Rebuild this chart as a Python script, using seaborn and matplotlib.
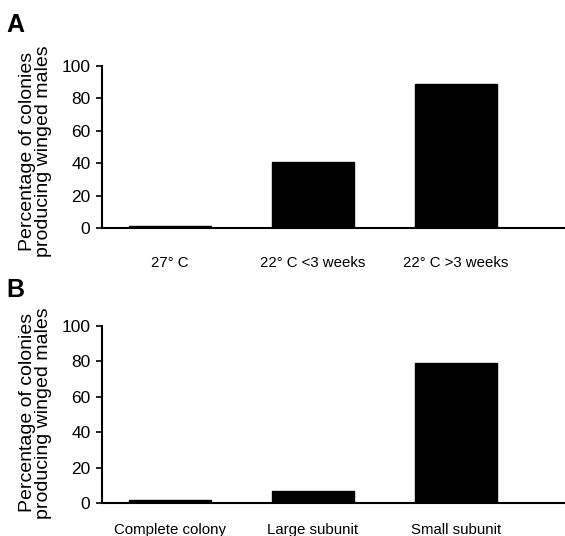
import matplotlib
matplotlib.use("Agg")
import matplotlib.pyplot as plt
import seaborn as sns

# panel A: temperature treatments
temp_groups = ["27° C", "22° C <3 weeks", "22° C >3 weeks"]
temp_pct = [1, 41, 89]

# panel B: colony fragments
colony_groups = ["Complete colony", "Large subunit", "Small subunit"]
colony_pct = [1.5, 7, 79]

y_ticks = [0, 20, 40, 60, 80, 100]

sns.set_style("white")
plt.rcParams["font.family"] = ["Liberation Sans", "DejaVu Sans"]
plt.rcParams["text.color"] = "black"
plt.rcParams["xtick.color"] = "black"
plt.rcParams["ytick.color"] = "black"
plt.rcParams["axes.labelcolor"] = "black"

fig = plt.figure(figsize=(5.65, 5.36), dpi=100)
ax_a = fig.add_axes([0.1805, 0.5746, 0.8195, 0.3022])
ax_b = fig.add_axes([0.1805, 0.0616, 0.8195, 0.330])

def draw_panel(ax, groups, vals, xpad, label_xy):
    sns.barplot(x=groups, y=vals, color="black", width=0.57, ax=ax,
                saturation=1, edgecolor="black")
    ax.set_ylim(0, 100)
    ax.set_xlim(-0.476, 2.762)
    ax.set_yticks(y_ticks)
    ax.set_yticklabels([str(t) for t in y_ticks], fontsize=12.5)
    ax.tick_params(axis="y", left=True, length=4.3, width=1.2, pad=4)
    ax.tick_params(axis="x", bottom=False, labelsize=10.8, pad=xpad)
    ax.set_ylabel("Percentage of colonies\nproducing winged males", fontsize=14,
                  linespacing=0.95)
    ax.yaxis.set_label_coords(*label_xy)
    ax.set_xlabel("")
    sns.despine(ax=ax)
    for s in ["left", "bottom"]:
        ax.spines[s].set_color("black")
        ax.spines[s].set_linewidth(1.5)

draw_panel(ax_a, temp_groups, temp_pct, 17, (-0.108, 0.475))
draw_panel(ax_b, colony_groups, colony_pct, 11, (-0.108, 0.51))

fig.text(0.012, 0.94, "A", fontsize=18, fontweight="bold")
fig.text(0.012, 0.445, "B", fontsize=18, fontweight="bold")

fig.savefig("out.png", dpi=100)
